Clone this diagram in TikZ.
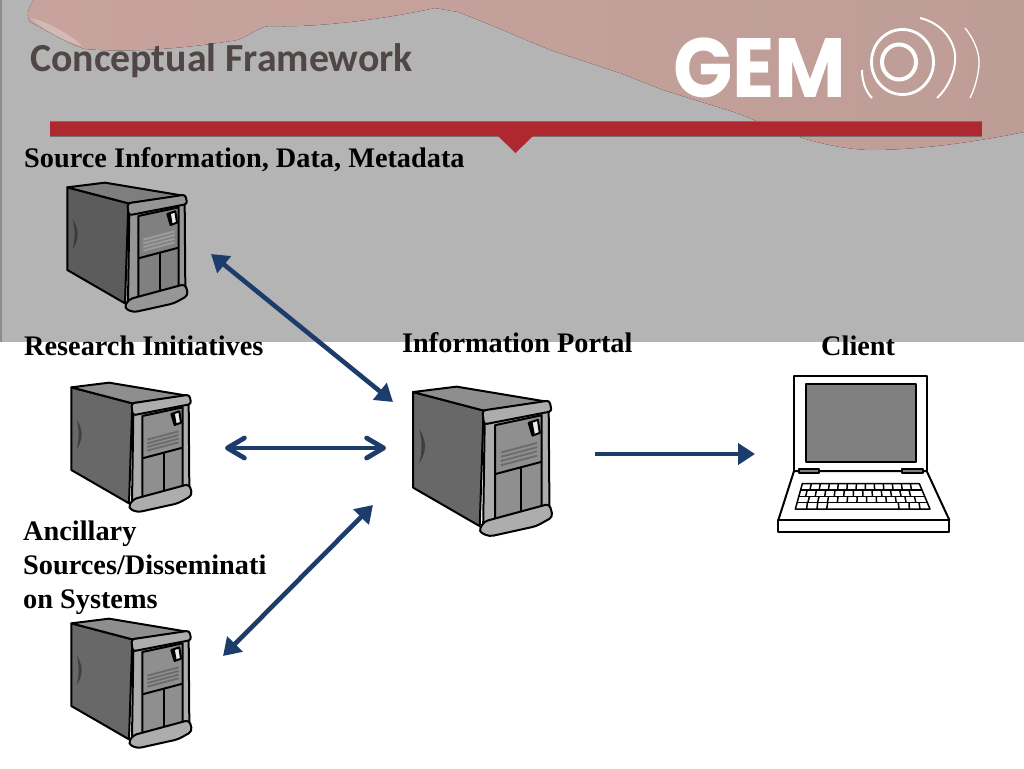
\documentclass[tikz,border=0pt]{standalone}
\usepackage{fontspec}
\setmainfont{Liberation Serif}
\newfontfamily\titlefont{Carlito}
\newfontfamily\logofont{Poppins}
\usetikzlibrary{arrows.meta}
\definecolor{bggray}{HTML}{B4B4B4}
\definecolor{bgpink}{HTML}{BF9D97}
\definecolor{bgpinkl}{HTML}{C8A39D}
\definecolor{barred}{HTML}{B0282F}
\definecolor{arrowblue}{HTML}{1C3D6B}
\definecolor{titlegray}{HTML}{4F4645}
\tikzset{
  label text/.style={anchor=base west,inner sep=0pt,font=\bfseries\fontsize{28.3}{28.3}\selectfont,text=black},
  link/.style={arrowblue,line width=4.6pt},
  twoway/.style={link,{Triangle[length=17pt,width=21pt]}-{Triangle[length=17pt,width=21pt]}},
  chevrons/.style={link,{Straight Barb[length=17pt,width=20pt,line width=4.8pt,round]}-{Straight Barb[length=17pt,width=20pt,line width=4.8pt,round]}},
  oneway/.style={link,-{Triangle[length=17pt,width=21pt]}},
  ink/.style={draw=black,line width=2pt,line join=round},
  thinink/.style={draw=black,line width=2pt,line join=round},
  keyline/.style={draw=black,line width=1.5pt,line join=round},
}
\newcommand{\serverart}[3]{%
  \begin{scope}[shift={(#1,#2)},x=#3pt/3,y=-#3pt/3]
    \filldraw[ink,fill=srvside] (52,52)--(235,100)--(225,400)--(52,300)--cycle;
    \fill[srvdark] (68,148) .. controls (88,180) and (88,205) .. (68,238) .. controls (76,205) and (76,180) .. (68,148);
    \filldraw[ink,fill=srvtop] (52,52)--(165,38)--(405,78)--(235,100)--cycle;
    \filldraw[ink,fill=srvframe] (238,125)--(404,95)--(406,355)--(234,400)--cycle;
    \filldraw[ink,fill=srvpanel] (265,138)--(386,112)--(386,350)--(265,385)--cycle;
    \draw[ink] (265,265)--(386,233);
    \draw[ink] (331,248)--(331,366);
    \filldraw[ink,fill=srvframe,rounded corners=3pt] (232,100)--(406,74)--(412,102)--(236,136)--cycle;
    \filldraw[ink,fill=srvframe,rounded corners=4pt] (236,388)--(406,342)--(415,376)--(372,400)--(250,427)--(222,414)--cycle;
    \filldraw[thinink,fill=black!8] (352,132)--(376,124)--(381,158)--(362,165)--cycle;
    \fill[black] (352,132)--(362,129)--(368,162)--(362,165)--cycle;
    \foreach \k in {0,1,2,3}
      \draw[srvvent,line width=1.9pt] (280,{209+\k*11})--(374,{184+\k*11});
  \end{scope}}
\newcommand{\srvcolors}[6]{%
  \definecolor{srvside}{HTML}{#1}\definecolor{srvdark}{HTML}{#2}\definecolor{srvtop}{HTML}{#3}%
  \definecolor{srvframe}{HTML}{#4}\definecolor{srvpanel}{HTML}{#5}\definecolor{srvvent}{HTML}{#6}}
\begin{document}
\begin{tikzpicture}[x=1pt,y=-1pt]
\useasboundingbox (0,0) rectangle (1024,768);
\fill[white] (0,0) rectangle (1024,768);
\fill[bggray] (0,0) rectangle (1024,342);
\fill[black!45] (0,0) rectangle (2,342);
\fill[left color=bgpinkl,right color=bgpink] (34,0) .. controls (28,8) and (26,16) .. (30,22) .. controls (50,32) and (68,44) .. (85,49)
  .. controls (130,53) and (190,48) .. (237,40) .. controls (250,36) and (258,27) .. (269,26)
  .. controls (320,28) and (390,18) .. (435,8) -- (458,12) .. controls (490,24) and (530,42) .. (553,51)
  -- (620,73) -- (663,90) -- (737,113) .. controls (770,126) and (815,148) .. (870,150)
  .. controls (925,150) and (985,140) .. (1024,132) -- (1024,0) -- cycle;
\fill[bgpink!70!white] (30,18) .. controls (50,22) and (75,38) .. (82,46) .. controls (60,40) and (42,28) .. (30,18) -- cycle;
% title
\node[anchor=base west,inner sep=0pt,font=\titlefont\bfseries\fontsize{39.8}{39.8}\selectfont,text=titlegray] (title) at (30,71) {Conceptual Framework};
% logo
\node[anchor=base west,inner sep=0pt,xscale=0.93,transform shape,font=\logofont\bfseries\fontsize{84}{84}\selectfont,text=white] (logo) at (673,97) {GEM};
\draw[white,line width=4pt] (899,62) ellipse (17 and 17.5);
\draw[white,line width=2.8pt] (902.5,62) ellipse (31 and 32.5);
\draw[white,line width=2pt] (920,18) .. controls (945,24) and (957,45) .. (955,62) .. controls (954,75) and (946,90) .. (937,98);
\draw[white,line width=1.3pt] (965,28) .. controls (975,40) and (980,55) .. (979,65) .. controls (978,78) and (974,90) .. (970,98);
\draw[white,line width=2pt] (862,70) .. controls (862,82) and (866,92) .. (872,98);
% bar
\fill[black!55] (50,121) rectangle (982,137);
\fill[barred] (50,122) rectangle (982,136);
\fill[barred] (498,136) -- (533,136) -- (515.5,153) -- cycle;
% labels
\node[label text] (source) at (24,167) {Source Information, Data, Metadata};
\node[label text] (research) at (24,355) {Research Initiatives};
\node[label text] (portal) at (402,352) {Information Portal};
\node[label text] (client) at (821,355) {Client};
\node[label text] (anc1) at (23,540) {Ancillary};
\node[label text] (anc2) at (23,574) {Sources/Disseminati};
\node[label text] (anc3) at (23,608) {on Systems};
% servers
\srvcolors{5C5C5C}{3A3A3A}{7E7E7E}{969696}{808080}{9C9C9C}
\serverart{50}{170}{1}
\srvcolors{686868}{3F3F3F}{8E8E8E}{ADADAD}{8F8F8F}{6C6C6C}
\serverart{54}{370}{1}
\serverart{54}{606}{1}
\serverart{393}{372}{1.156}
% laptop
\begin{scope}[shift={(770,365)},x=1pt/3,y=-1pt/3]
  \filldraw[thinink,fill=white] (72,318)--(72,32)--(470,32)--(470,318)--cycle;
  \filldraw[thinink,fill=black!50] (108,56) rectangle (437,292);
  \filldraw[thinink,fill=white] (72,318)--(25,465)--(538,465)--(470,318)--cycle;
  \filldraw[thinink,fill=white] (25,465) rectangle (538,500);
  \draw[draw=black,line width=2.6pt] (72,318)--(470,318);
  \filldraw[thinink,fill=black!50] (87,312) rectangle (148,325);
  \filldraw[thinink,fill=black!50] (395,312) rectangle (458,325);
  % keyboard
  \draw[keyline] (97,356)--(448,356)--(480,432)--(76,432)--cycle;
  \foreach \r in {375,394,413}
    \draw[keyline] ({97-(\r-356)*21/76},\r)--({448+(\r-356)*32/76},\r);
  \foreach \k in {1,...,12}{
    \draw[keyline] ({97+\k*351/13},356)--({92+\k*(361-0.7)/13},375);
    \draw[keyline] ({92+(\k-0.3)*361/13},375)--({87+(\k-0.3)*372/13},394);
    \draw[keyline] ({87+(\k+0.1)*372/13},394)--({81+(\k+0.1)*383/13},413);
  }
  \foreach \xa/\xb in {112/110,143/141,173/170,385/387,417/418,447/450}
    \draw[keyline] (\xa,413)--(\xb,432);
\end{scope}
% connector ends
\coordinate (srcEnd) at (211,254);
\coordinate (portalA) at (393,402);
\coordinate (resEnd) at (225,448);
\coordinate (portalB) at (386,448);
\coordinate (ancEnd) at (223,656);
\coordinate (portalC) at (373,505);
\coordinate (portalD) at (595,454);
\coordinate (clientEnd) at (755,454);
\draw[twoway] (srcEnd) -- (portalA);
\draw[chevrons] (resEnd) -- (portalB);
\draw[twoway] (ancEnd) -- (portalC);
\draw[oneway] (portalD) -- (clientEnd);
\end{tikzpicture}
\end{document}
